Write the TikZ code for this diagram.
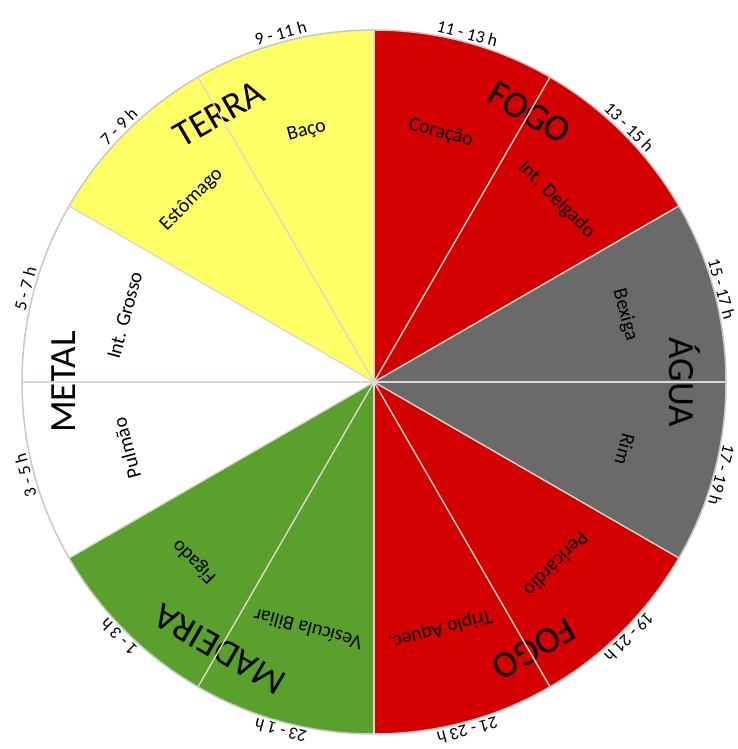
\documentclass[tikz,border=0pt]{standalone}
\usepackage{fontspec}
\setmainfont{Carlito}
\usetikzlibrary{calc}
\definecolor{cred}{RGB}{212,0,0}
\definecolor{cgray}{RGB}{106,106,106}
\definecolor{cyellow}{RGB}{255,255,102}
\definecolor{cgreen}{RGB}{90,160,45}
\definecolor{csep}{RGB}{222,216,206}
\definecolor{cline}{RGB}{200,200,200}
\tikzset{
  organ/.style={inner sep=0pt, font=\fontsize{20}{22}\selectfont},
  hour/.style={inner sep=0pt, anchor=base, font=\fontsize{17.5}{20}\selectfont},
  elem/.style={inner sep=0pt, font=\fontsize{37}{40}\selectfont},
  sepline/.style={draw=csep, line width=1.4pt},
  rim/.style={draw=cline, line width=1.5pt}
}
\begin{document}
\begin{tikzpicture}[x=1pt,y=1pt]
\useasboundingbox (0,0) rectangle (737,749);
\coordinate (c) at (374,367);
\def\R{352}
% sectors
\foreach \a/\col in {60/cred,30/cred,0/cgray,-30/cgray,-60/cred,-90/cred,-120/cgreen,-150/cgreen,-180/white,150/white,120/cyellow,90/cyellow}
  \fill[\col] (c) -- ++(\a:\R) arc[start angle=\a, end angle=\a+30, radius=\R] -- cycle;
\draw[rim] (c) circle[radius=\R];
% organ labels
\node[organ, rotate=-15] (coracao) at ($(c)+(75:258)$) {Coração};
\node[organ, rotate=-45] (delgado) at ($(c)+(45:258)$) {Int. Delgado};
\node[organ, rotate=-75] (bexiga) at ($(c)+(15:260)$) {Bexiga};
\node[organ, rotate=-105] (rim) at ($(c)+(-15:260)$) {Rim};
\node[organ, rotate=-135] (pericardio) at ($(c)+(-45:258)$) {Pericárdio};
\node[organ, rotate=-165] (triplo) at ($(c)+(-75:256)$) {Triplo Aquec.};
\node[organ, rotate=165] (vesicula) at ($(c)+(-105:256)$) {Vesícula Biliar};
\node[organ, rotate=135] (figado) at ($(c)+(-135:254)$) {Fígado};
\node[organ, rotate=105] (pulmao) at ($(c)+(-165:256)$) {Pulmão};
\node[organ, rotate=75] (grosso) at ($(c)+(165:258)$) {Int. Grosso};
\node[organ, rotate=45] (estomago) at ($(c)+(135:258)$) {Estômago};
\node[organ, rotate=15] (baco) at ($(c)+(105:260)$) {Baço};
% element labels
\node[elem, rotate=-30] (fogo1) at ($(c)+(60:311)$) {FOGO};
\node[elem, rotate=-90] (agua) at ($(c)+(0:311)$) {ÁGUA};
\node[elem, rotate=-150] (fogo2) at ($(c)+(-59:311)$) {FOGO};
\node[elem, rotate=150] (madeira) at ($(c)+(-120:309)$) {MADEIRA};
\node[elem, rotate=90] (metal) at ($(c)+(180:310)$) {METAL};
\node[elem, rotate=30] (terra) at ($(c)+(120:310)$) {TERRA};
% separators
\foreach \a in {0,30,...,330}
  \draw[sepline] (c) -- ++(\a:\R);
% hour labels
\node[hour, rotate=-15] (h1) at ($(c)+(75:\R+3)$) {11 - 13 h};
\node[hour, rotate=-45] (h2) at ($(c)+(45:\R+3)$) {13 - 15 h};
\node[hour, rotate=-75] (h3) at ($(c)+(15:\R+2)$) {15 - 17 h};
\node[hour, rotate=-105] (h4) at ($(c)+(-15:\R+2)$) {17 - 19 h};
\node[hour, rotate=-135] (h5) at ($(c)+(-45:\R+3)$) {19 - 21 h};
\node[hour, rotate=-165] (h6) at ($(c)+(-75:\R+3)$) {21 - 23 h};
\node[hour, rotate=165] (h7) at ($(c)+(-105:\R+3)$) {23 - 1 h};
\node[hour, rotate=135] (h8) at ($(c)+(-135:\R+3)$) {1 - 3 h};
\node[hour, rotate=105] (h9) at ($(c)+(-165:\R+3)$) {3 - 5 h};
\node[hour, rotate=75] (h10) at ($(c)+(165:\R+3)$) {5 - 7 h};
\node[hour, rotate=45] (h11) at ($(c)+(135:\R+3)$) {7 - 9 h};
\node[hour, rotate=15] (h12) at ($(c)+(105:\R+3)$) {9 - 11 h};
\end{tikzpicture}
\end{document}
